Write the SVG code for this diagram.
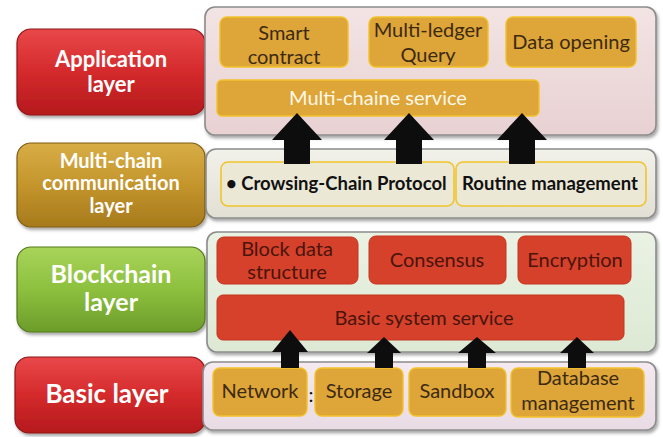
<svg xmlns="http://www.w3.org/2000/svg" width="663" height="437" viewBox="0 0 663 437">
  <defs>
    <linearGradient id="gRed" x1="0" y1="0" x2="0" y2="1">
      <stop offset="0" stop-color="#e9484a"/>
      <stop offset="0.5" stop-color="#d42a2c"/>
      <stop offset="1" stop-color="#b51a1d"/>
    </linearGradient>
    <linearGradient id="gGold" x1="0" y1="0" x2="0" y2="1">
      <stop offset="0" stop-color="#d8ad46"/>
      <stop offset="0.5" stop-color="#c4952c"/>
      <stop offset="1" stop-color="#a67a1c"/>
    </linearGradient>
    <linearGradient id="gGreen" x1="0" y1="0" x2="0" y2="1">
      <stop offset="0" stop-color="#a8d45a"/>
      <stop offset="0.5" stop-color="#8dc03e"/>
      <stop offset="1" stop-color="#6c9c2a"/>
    </linearGradient>
    <linearGradient id="gPink" x1="0" y1="0" x2="0" y2="1">
      <stop offset="0" stop-color="#f3e4e4"/>
      <stop offset="1" stop-color="#e8d1d3"/>
    </linearGradient>
    <linearGradient id="gBeige" x1="0" y1="0" x2="0" y2="1">
      <stop offset="0" stop-color="#f2f1ea"/>
      <stop offset="1" stop-color="#e2e0d4"/>
    </linearGradient>
    <linearGradient id="gMint" x1="0" y1="0" x2="0" y2="1">
      <stop offset="0" stop-color="#eaf2e4"/>
      <stop offset="1" stop-color="#dde9d4"/>
    </linearGradient>
    <linearGradient id="gLav" x1="0" y1="0" x2="0" y2="1">
      <stop offset="0" stop-color="#f4eaf0"/>
      <stop offset="1" stop-color="#e9dbe4"/>
    </linearGradient>
    <filter id="shadow" x="-10%" y="-10%" width="120%" height="130%">
      <feDropShadow dx="1.5" dy="2.5" stdDeviation="1.5" flood-color="#000" flood-opacity="0.35"/>
    </filter>
  </defs>
  <style>
    .label { stroke-width: 1.2; filter: url(#shadow); }
    .label-text { font-family: Lato, "Liberation Sans", sans-serif; font-weight: bold; fill: #ffffff; text-anchor: middle; }
    .panel { stroke: #8c8c8c; stroke-width: 1.6; filter: url(#shadow); }
    .orange { fill: #dea538; stroke: #f2c22a; stroke-width: 1.4; }
    .red { fill: #d5412a; stroke: #c4361f; stroke-width: 1; }
    .cream { fill: #ece8d6; stroke: #f0c52c; stroke-width: 1.6; }
    .t { font-family: Lato, "Liberation Sans", sans-serif; font-size: 20px; text-anchor: middle; }
    .t-start { text-anchor: start; }
    .t-orange { fill: #3c2a12; }
    .t-red { fill: #4a140c; }
    .t-white { fill: #fff8e8; }
    .t-bold { fill: #111111; font-weight: bold; font-size: 18.5px; }
    .arrow { fill: #0d0d0d; }
  </style>

  <!-- Layer labels on the left -->
  <g id="label-application">
    <rect class="label" x="17" y="29" width="188" height="86" rx="14" fill="url(#gRed)" stroke="#8e1416"/>
    <text class="label-text" x="111" y="67" font-size="22">Application</text>
    <text class="label-text" x="111" y="92" font-size="22">layer</text>
  </g>
  <g id="label-multichain">
    <rect class="label" x="17" y="143" width="188" height="84" rx="14" fill="url(#gGold)" stroke="#7e5c12"/>
    <text class="label-text" x="111" y="168" font-size="20">Multi-chain</text>
    <text class="label-text" x="111" y="190" font-size="20">communication</text>
    <text class="label-text" x="111" y="213" font-size="20">layer</text>
  </g>
  <g id="label-blockchain">
    <rect class="label" x="17" y="247" width="188" height="85" rx="14" fill="url(#gGreen)" stroke="#52781c"/>
    <text class="label-text" x="111" y="283" font-size="25">Blockchain</text>
    <text class="label-text" x="111" y="311" font-size="25">layer</text>
  </g>
  <g id="label-basic">
    <rect class="label" x="15" y="357" width="190" height="76" rx="14" fill="url(#gRed)" stroke="#8e1416"/>
    <text class="label-text" x="107" y="403" font-size="26">Basic layer</text>
  </g>

  <!-- Application layer panel -->
  <g id="application-layer">
    <rect class="panel" x="205" y="7" width="451" height="128" rx="10" fill="url(#gPink)"/>
    <g id="smart-contract">
      <rect class="orange" x="220" y="17" width="128" height="50" rx="7"/>
      <text class="t t-orange" x="284" y="40" font-size="21">Smart</text>
      <text class="t t-orange" x="284" y="64" font-size="21">contract</text>
    </g>
    <g id="multi-ledger-query">
      <rect class="orange" x="369" y="17" width="119" height="50" rx="7"/>
      <text class="t t-orange" x="428" y="37">Multi-ledger</text>
      <text class="t t-orange" x="428" y="62">Query</text>
    </g>
    <g id="data-opening">
      <rect class="orange" x="506" y="17" width="130" height="50" rx="7"/>
      <text class="t t-orange" x="571" y="49">Data opening</text>
    </g>
    <g id="multi-chaine-service">
      <rect class="orange" x="217" y="80" width="322" height="36" rx="5"/>
      <text class="t t-white" x="378" y="105" font-size="23">Multi-chaine service</text>
    </g>
  </g>

  <!-- Multi-chain communication layer panel -->
  <g id="multichain-layer">
    <rect class="panel" x="206" y="149" width="450" height="69" rx="10" fill="url(#gBeige)"/>
    <g id="crowsing-chain-protocol">
      <rect class="cream" x="221" y="162" width="233" height="44" rx="7"/>
      <text class="t t-bold t-start" x="226" y="190">•  Crowsing-Chain Protocol</text>
    </g>
    <g id="routine-management">
      <rect class="cream" x="456" y="162" width="190" height="44" rx="7"/>
      <text class="t t-bold" x="550" y="190">Routine management</text>
    </g>
  </g>

  <!-- Blockchain layer panel -->
  <g id="blockchain-layer">
    <rect class="panel" x="207" y="232" width="449" height="120" rx="10" fill="url(#gMint)"/>
    <g id="block-data-structure">
      <rect class="red" x="217" y="237" width="141" height="47" rx="7"/>
      <text class="t t-red" x="287" y="256">Block data</text>
      <text class="t t-red" x="287" y="279">structure</text>
    </g>
    <g id="consensus">
      <rect class="red" x="369" y="236" width="137" height="48" rx="7"/>
      <text class="t t-red" x="437" y="267">Consensus</text>
    </g>
    <g id="encryption">
      <rect class="red" x="518" y="236" width="113" height="48" rx="7"/>
      <text class="t t-red" x="575" y="267">Encryption</text>
    </g>
    <g id="basic-system-service">
      <rect class="red" x="217" y="295" width="407" height="45" rx="6"/>
      <text class="t t-red" x="424" y="325" font-size="21">Basic system service</text>
    </g>
  </g>

  <!-- Basic layer panel -->
  <g id="basic-layer">
    <rect class="panel" x="203" y="362" width="453" height="68" rx="10" fill="url(#gLav)"/>
    <g id="network">
      <rect class="orange" x="213" y="368" width="94" height="48" rx="7"/>
      <text class="t t-orange" x="260" y="398">Network</text>
    </g>
    <text class="t" x="311" y="402" font-size="21" fill="#111">:</text>
    <g id="storage">
      <rect class="orange" x="315" y="368" width="88" height="48" rx="7"/>
      <text class="t t-orange" x="359" y="398">Storage</text>
    </g>
    <g id="sandbox">
      <rect class="orange" x="409" y="368" width="97" height="48" rx="7"/>
      <text class="t t-orange" x="457" y="398">Sandbox</text>
    </g>
    <g id="database-management">
      <rect class="orange" x="511" y="368" width="133" height="49" rx="7"/>
      <text class="t t-orange" x="578" y="385">Database</text>
      <text class="t t-orange" x="578" y="410">management</text>
    </g>
  </g>

  <!-- Upward block arrows between layers -->
  <g id="connectors">
    <polygon class="arrow" points="297,113 322,140 310,140 310,164 284,164 284,140 272,140"/>
    <polygon class="arrow" points="409,113 434,140 422,140 422,164 396,164 396,140 384,140"/>
    <polygon class="arrow" points="522,113 547,140 535,140 535,164 509,164 509,140 497,140"/>
    <polygon class="arrow" points="290,330 308,352 299,352 299,368 281,368 281,352 272,352"/>
    <polygon class="arrow" points="384,337 401,353 393,353 393,368 375,368 375,353 367,353"/>
    <polygon class="arrow" points="477,337 496,353 486,353 486,368 468,368 468,353 458,353"/>
    <polygon class="arrow" points="577,337 594,353 586,353 586,368 568,368 568,353 560,353"/>
  </g>
</svg>
